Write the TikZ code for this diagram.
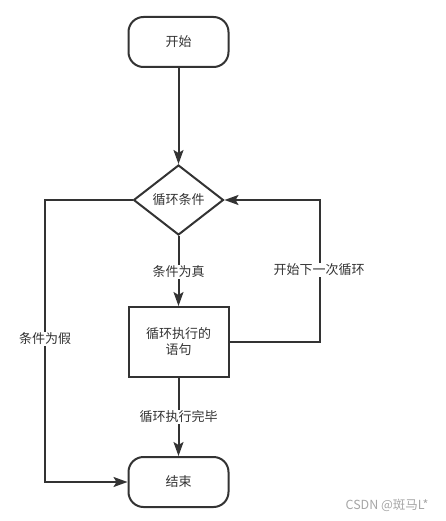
\documentclass[tikz,border=0pt]{standalone}
\usepackage{fontspec}
\setmainfont{Noto Sans CJK SC}
\usetikzlibrary{shapes.geometric,arrows.meta}
\definecolor{ink}{HTML}{333333}
\tikzset{
  x=1pt,y=-1pt,
  base/.style={draw=ink,line width=2pt,text=ink,font=\fontsize{13}{16}\selectfont,align=center},
  term/.style={base,rounded corners=15pt,minimum width=100pt,minimum height=50pt},
  proc/.style={base,rectangle,minimum width=100pt,minimum height=70pt},
  cond/.style={base,diamond,minimum width=90pt,minimum height=70pt,inner sep=0pt},
  flow/.style={draw=ink,line width=2pt,-{Stealth[length=14pt,width=10pt,inset=3pt]}},
  lbl/.style={fill=white,text=ink,font=\fontsize{13}{16}\selectfont,inner sep=1pt},
}
\begin{document}
\begin{tikzpicture}
\useasboundingbox (0,0) rectangle (446,521);
\node[term] (start) at (178.5,42) {开始};
\node[cond] (cond) at (178.5,200) {循环条件};
\node[proc] (body) at (178.5,342) {循环执行的\\语句};
\node[term] (end) at (178.5,482) {结束};
\coordinate (r) at (320,200);
\coordinate (l) at (45,200);
\coordinate (lb) at (45,482);
\draw[flow] (start) -- (cond);
\draw[flow] (cond) -- (body);
\draw[flow] (body) -- (end);
\draw[flow] (body.east) -| (r) -- (cond.east);
\draw[flow] (cond.west) -- (l) -- (lb) -- (end.west);
\node[lbl] (t1) at (178.5,272) {条件为真};
\node[lbl] (t2) at (178.5,417) {循环执行完毕};
\node[lbl] (t3) at (319,270) {开始下一次循环};
\node[lbl] (t4) at (45,339) {条件为假};
\node[text=gray!70,font=\fontsize{12.5}{15}\selectfont,anchor=east] (wm) at (432,505) {CSDN @斑马L*};
\end{tikzpicture}
\end{document}
